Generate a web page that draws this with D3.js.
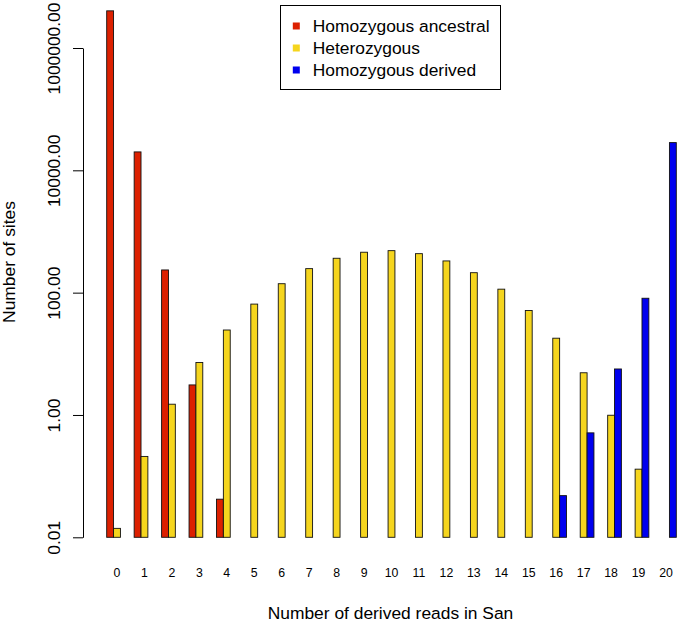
<!-- HTML -->
<!-- ---- -->
<!DOCTYPE html>
<html>
<head>
<meta charset="utf-8">
<style>
	body { margin: 0; background: #fff; }
	svg text { font-family: "Liberation Sans", Arial, Helvetica, sans-serif; fill: #000; }
</style>
</head>
<body>
<div id="vis-bars"></div>

<!-- Imports -->
<script src="https://d3js.org/d3.v7.min.js"></script>

<!-- Code -->
<script>

	// Data //
	// ---- //

	// number of derived reads in San (groups)
	let reads = d3.range(0, 21);

	let series = ["Homozygous ancestral", "Heterozygous", "Homozygous derived"];
	let colors = ["#dc2000", "#f5d51e", "#0000ee"];

	// values, null = no bar
	let homAncestral = [4.05e6, 2.0e4, 235, 3.1, 0.042,
		null, null, null, null, null, null, null, null, null, null, null, null, null, null, null, null];
	let heterozygous = [0.014, 0.21, 1.5, 7.2, 24.5, 65, 140, 247, 365, 458, 486,
		434, 330, 212, 114, 51, 18, 4.9, 0.99, 0.13, null];
	let homDerived = [null, null, null, null, null, null, null, null, null, null, null,
		null, null, null, null, null, 0.048, 0.51, 5.65, 81, 2.84e4];

	let yTicks = [0.01, 1, 100, 1e4, 1e6];


	// Setup //
	// ----- //

	let width = 680, height = 624;

	let svg = d3.select("#vis-bars")
		.append("svg")
			.attr("width", width)
			.attr("height", height);

	// groups of 3 bars + 1 bar of space
	let x = d3.scaleBand()
		.domain(reads)
		.range([106.7, 676.3])
		.paddingInner(0.25)
		.paddingOuter(0);

	let xs = d3.scaleBand()
		.domain(series)
		.range([0, x.bandwidth()]);

	let y = d3.scaleLog()
		.domain([0.01, 1e6])
		.range([537.3, 48]);

	let base = y(0.01);

	// Bars //
	// ---- //

	let values = [homAncestral, heterozygous, homDerived];

	series.forEach(function(s, i) {
		let rows = reads.map((r, j) => ({read: r, v: values[i][j]}))
			.filter(d => d.v != null);

		svg.append("g").selectAll("rect")
			.data(rows)
			.enter().append("rect")
				.attr("x", d => x(d.read) + xs(s))
				.attr("y", d => y(d.v))
				.attr("width", xs.bandwidth())
				.attr("height", d => base - y(d.v))
				.style("fill", colors[i])
				.style("stroke", "#111")
				.style("stroke-width", 0.9);
	});

	// Axes //
	// ---- //

	let yAxis = svg.append("g")
		.attr("transform", "translate(83,0)")
		.call(d3.axisLeft(y)
			.tickValues(yTicks)
			.tickFormat(d3.format(".2f"))
			.tickSize(10)
			.tickSizeOuter(0));

	yAxis.select(".domain").attr("stroke", "#000");
	yAxis.selectAll(".tick line").attr("stroke", "#000");
	yAxis.selectAll(".tick text")
		.attr("x", 0)
		.attr("dy", null)
		.attr("text-anchor", "middle")
		.attr("transform", "translate(-23,0) rotate(-90)")
		.style("font-size", "17.4px")
		.style("font-family", "'Liberation Sans', Arial, Helvetica, sans-serif")
		.attr("fill", "#000");

	let xAxis = svg.append("g")
		.attr("transform", "translate(0," + base + ")")
		.call(d3.axisBottom(x).tickSize(0).tickPadding(31));

	xAxis.select(".domain").remove();
	xAxis.selectAll(".tick text")
		.style("font-size", "12.3px")
		.style("font-family", "'Liberation Sans', Arial, Helvetica, sans-serif")
		.attr("fill", "#000");

	// Axis titles
	svg.append("text")
		.attr("x", 390.5)
		.attr("y", 619)
		.attr("text-anchor", "middle")
		.style("font-size", "17.4px")
		.text("Number of derived reads in San");

	svg.append("text")
		.attr("transform", "translate(15,262) rotate(-90)")
		.attr("text-anchor", "middle")
		.style("font-size", "17.4px")
		.text("Number of sites");

	// Legend //
	// ------ //

	let legend = svg.append("g");

	legend.append("rect")
		.attr("x", 280.5)
		.attr("y", 5.5)
		.attr("width", 220)
		.attr("height", 84)
		.style("fill", "#fff")
		.style("stroke", "#000")
		.style("stroke-width", 1);

	let items = legend.selectAll(".item")
		.data(series)
		.enter().append("g")
			.attr("class", "item")
			.attr("transform", (d, i) => "translate(0," + (26 + i * 22) + ")");

	items.append("rect")
		.attr("x", 292.8)
		.attr("y", -3.5)
		.attr("width", 7)
		.attr("height", 7)
		.style("fill", (d, i) => colors[i]);

	items.append("text")
		.attr("x", 312.7)
		.attr("y", 6.2)
		.style("font-size", "17.4px")
		.text(d => d);

</script>
</body>
</html>
